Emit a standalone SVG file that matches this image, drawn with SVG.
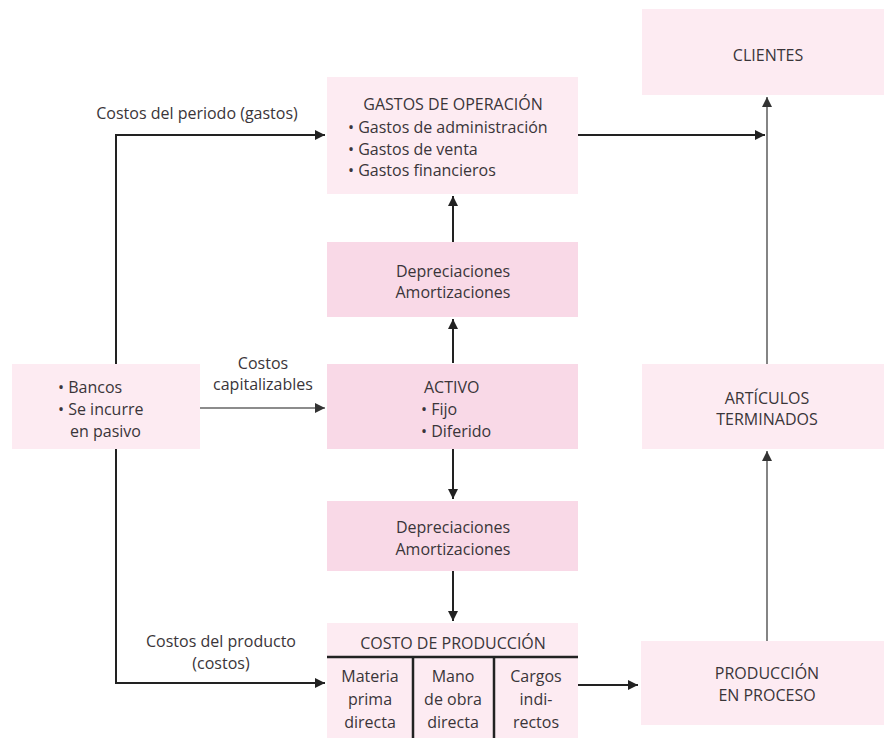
<svg xmlns="http://www.w3.org/2000/svg" width="884" height="738" viewBox="0 0 884 738">
<defs>
<marker id="ah" viewBox="0 0 10 10" refX="10" refY="5" markerWidth="10" markerHeight="10" markerUnits="userSpaceOnUse" orient="auto">
<path d="M0,0 L10,5 L0,10 z" fill="#222"/>
</marker>
<marker id="ahg" viewBox="0 0 10 10" refX="10" refY="5" markerWidth="10" markerHeight="10" markerUnits="userSpaceOnUse" orient="auto">
<path d="M0,0 L10,5 L0,10 z" fill="#333"/>
</marker>
</defs>
<style>
text{font-family:"Open Sans","Liberation Sans",sans-serif;font-size:16px;fill:#3a3539}
.c{text-anchor:middle}
.light{fill:#fdebf2}
.dark{fill:#f9d9e7}
.ln{stroke:#222;stroke-width:2;fill:none}
.lg{stroke:#666;stroke-width:1.6;fill:none}
</style>
<rect width="884" height="738" fill="#fff"/>
<g id="connectors">
<polyline class="ln" points="116,364 116,135 325,135" marker-end="url(#ah)"/>
<line class="lg" x1="200" y1="408" x2="325" y2="408" marker-end="url(#ahg)"/>
<polyline class="ln" points="116,449 116,683 325,683" marker-end="url(#ah)"/>
<line class="ln" x1="578" y1="135" x2="765" y2="135" marker-end="url(#ah)"/>
<line class="lg" x1="767" y1="364" x2="767" y2="97" marker-end="url(#ahg)"/>
<line class="lg" x1="767" y1="641" x2="767" y2="451" marker-end="url(#ahg)"/>
<line class="ln" x1="453" y1="242" x2="453" y2="196" marker-end="url(#ah)"/>
<line class="ln" x1="453" y1="363" x2="453" y2="319" marker-end="url(#ah)"/>
<line class="ln" x1="453" y1="449" x2="453" y2="499" marker-end="url(#ah)"/>
<line class="ln" x1="453" y1="571" x2="453" y2="621" marker-end="url(#ah)"/>
<line class="ln" x1="578" y1="685" x2="638" y2="685" marker-end="url(#ah)"/>
<text class="c" x="197" y="119">Costos del periodo (gastos)</text>
<text class="c" x="263" y="369">Costos</text>
<text class="c" x="263" y="390">capitalizables</text>
<text class="c" x="221" y="647">Costos del producto</text>
<text class="c" x="221" y="669">(costos)</text>
</g>
<g id="gastos">
<rect class="light" x="327" y="77" width="251" height="117"/>
<text class="c" x="453" y="110">GASTOS DE OPERACIÓN</text>
<text x="348" y="133">• Gastos de administración</text>
<text x="348" y="155">• Gastos de venta</text>
<text x="348" y="176">• Gastos financieros</text>
</g>
<g id="depreciaciones1">
<rect class="dark" x="327" y="242" width="251" height="75"/>
<text class="c" x="453" y="277">Depreciaciones</text>
<text class="c" x="453" y="298">Amortizaciones</text>
</g>
<g id="activo">
<rect class="dark" x="327" y="364" width="251" height="85"/>
<text x="424" y="393">ACTIVO</text>
<text x="421" y="415">• Fijo</text>
<text x="421" y="437">• Diferido</text>
</g>
<g id="depreciaciones2">
<rect class="dark" x="327" y="501" width="251" height="70"/>
<text class="c" x="453" y="533">Depreciaciones</text>
<text class="c" x="453" y="555">Amortizaciones</text>
</g>
<g id="costo">
<rect class="light" x="327" y="623" width="251" height="115"/>
<text class="c" x="453" y="649">COSTO DE PRODUCCIÓN</text>
<line x1="327" y1="657" x2="578" y2="657" stroke="#222" stroke-width="2.5"/>
<line x1="413" y1="657" x2="413" y2="738" stroke="#222" stroke-width="2.5"/>
<line x1="494" y1="657" x2="494" y2="738" stroke="#222" stroke-width="2.5"/>
<text class="c" x="370" y="682">Materia</text>
<text class="c" x="370" y="705">prima</text>
<text class="c" x="370" y="728">directa</text>
<text class="c" x="453" y="682">Mano</text>
<text class="c" x="453" y="705">de obra</text>
<text class="c" x="453" y="728">directa</text>
<text class="c" x="536" y="682">Cargos</text>
<text class="c" x="536" y="705">indi-</text>
<text class="c" x="536" y="728">rectos</text>
</g>
<g id="bancos">
<rect class="light" x="12" y="364" width="188" height="85"/>
<text x="58" y="393">• Bancos</text>
<text x="58" y="415">• Se incurre</text>
<text x="70" y="437">en pasivo</text>
</g>
<g id="clientes">
<rect class="light" x="642" y="9" width="242" height="86"/>
<text class="c" x="768" y="61">CLIENTES</text>
</g>
<g id="articulos">
<rect class="light" x="642" y="364" width="242" height="85"/>
<text class="c" x="767" y="404">ARTÍCULOS</text>
<text class="c" x="767" y="425">TERMINADOS</text>
</g>
<g id="produccion">
<rect class="light" x="641" y="641" width="243" height="84"/>
<text class="c" x="767" y="679">PRODUCCIÓN</text>
<text class="c" x="767" y="701">EN PROCESO</text>
</g>
</svg>
